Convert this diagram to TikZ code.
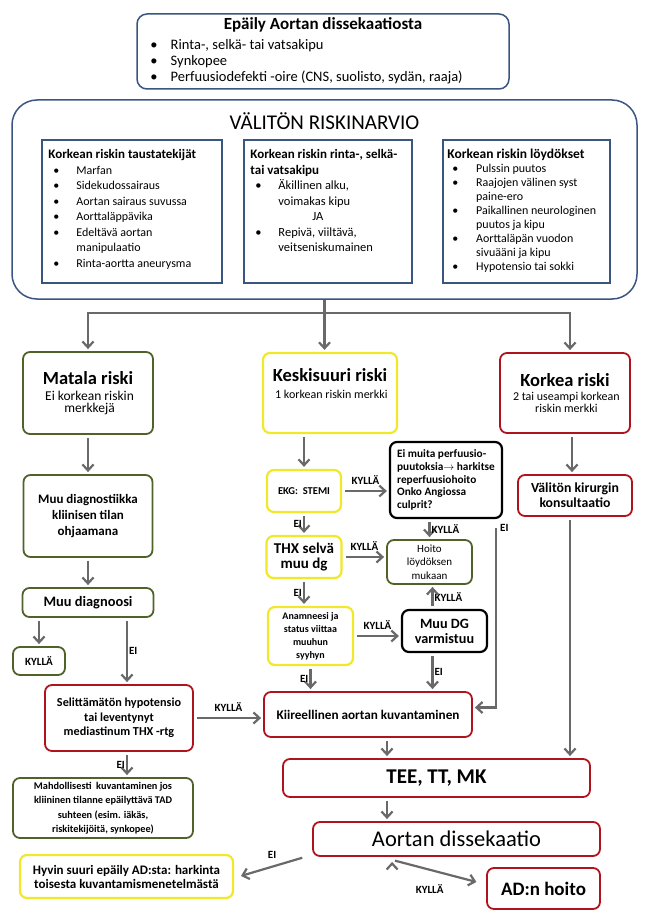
\documentclass[tikz,border=0pt]{standalone}
\usepackage{fontspec}
\setmainfont{Carlito}
\usetikzlibrary{positioning,arrows.meta}

\definecolor{sininen}{RGB}{56,86,128}
\definecolor{vihrea}{RGB}{79,98,40}
\definecolor{keltainen}{RGB}{240,232,40}
\definecolor{punainen}{RGB}{175,20,30}
\definecolor{harmaa}{RGB}{105,105,105}

\newcommand{\luet}[1][28pt]{\makebox[#1][l]{\hspace{5pt}\textbullet}}
\newcommand{\jatk}[1][28pt]{\hspace*{#1}}
\newcommand{\koko}[2]{\fontsize{#1}{#2}\selectfont}

\begin{document}
\begin{tikzpicture}[x=1pt,y=-1pt,on grid,
		>={Straight Barb[length=6pt,width=11pt]},
		laatikko/.style={draw,rounded corners=7pt,line width=1.8pt,align=center,inner sep=2pt,font=\bfseries},
		vihrea kehys/.style={laatikko,draw=vihrea},
		keltainen kehys/.style={laatikko,draw=keltainen,line width=2.2pt},
		punainen kehys/.style={laatikko,draw=punainen},
		musta kehys/.style={laatikko,draw=black,line width=2.2pt},
		sininen kehys/.style={draw=sininen,line width=1.5pt},
		lista/.style={align=left,anchor=north west,inner sep=0pt},
		nuoli/.style={->,draw=harmaa,line width=2.2pt,shorten >=2pt},
		nimio/.style={font=\bfseries\koko{11}{12},inner sep=1pt}]
		\useasboundingbox (0,0) rectangle (648,917);
		
		% epaily ja riskinarvio
		\node[sininen kehys,rounded corners=10pt,minimum width=372pt,minimum height=75pt]	(epaily)	at (323,51.5)	{};
		\node[font=\bfseries\koko{17}{19}]	(epailyotsikko)	at ([yshift=-12pt]epaily.north)	{Epäily Aortan dissekaatiosta};
		\node[lista,font=\koko{14.5}{16}]	(epailylista)	at ([xshift=9pt,yshift=-26pt]epaily.north west)
			{\luet[22pt] Rinta-, selkä- tai vatsakipu\\ \luet[22pt] Synkopee\\ \luet[22pt] Perfuusiodefekti -oire (CNS, suolisto, sydän, raaja)};
		
		\node[sininen kehys,rounded corners=25pt,minimum width=625pt,minimum height=199pt]	(riski)	at (324.5,199.5)	{};
		\node[font=\koko{21}{23}]	(riskiotsikko)	at ([yshift=-22pt]riski.north)	{VÄLITÖN RISKINARVIO};
		
		\node[sininen kehys,minimum width=180pt,minimum height=143pt]	(tausta)	at (132,211.5)	{};
		\node[sininen kehys,minimum width=168pt,minimum height=143pt]	(kipu)	[right=196pt of tausta]	{};
		\node[sininen kehys,minimum width=167pt,minimum height=143pt]	(loyd)	[right=198.5pt of kipu]	{};
		
		\node[lista,font=\koko{12}{15.5}]	(taustateksti)	at ([xshift=7pt,yshift=-10pt]tausta.north west)
			{\textbf{\koko{13}{15.5}Korkean riskin taustatekijät}\\ \luet Marfan\\ \luet Sidekudossairaus\\ \luet Aortan sairaus suvussa\\
			 \luet Aorttaläppävika\\ \luet Edeltävä aortan\\ \jatk manipulaatio\\ \luet Rinta-aortta aneurysma};
		\node[lista,font=\koko{12.5}{15.5}]	(kiputeksti)	at ([xshift=7pt,yshift=-10pt]kipu.north west)
			{\textbf{\koko{13}{15.5}Korkean riskin rinta-, selkä-}\\ \textbf{\koko{13}{15.5}tai vatsakipu}\\ \luet Äkillinen alku,\\ \jatk voimakas kipu\\
			 \hspace*{62pt}JA\\ \luet Repivä, viiltävä,\\ \jatk veitseniskumainen};
		\node[lista,font=\koko{12}{14}]	(loydteksti)	at ([xshift=5pt,yshift=-10pt]loyd.north west)
			{\textbf{\koko{13.5}{14}Korkean riskin löydökset}\\ \luet[26pt] Pulssin puutos\\ \luet[26pt] Raajojen välinen syst\\ \jatk[26pt] paine-ero\\
			 \luet[26pt] Paikallinen neurologinen\\ \jatk[26pt] puutos ja kipu\\ \luet[26pt] Aorttaläpän vuodon\\ \jatk[26pt] sivuääni ja kipu\\
			 \luet[26pt] Hypotensio tai sokki};
		
		% riskiluokat
		\node[vihrea kehys,minimum width=130pt,minimum height=82pt]	(matala)	at (88,393)
			{{\koko{18.5}{20}Matala riski}\\[4pt] \mdseries\koko{13.5}{15} Ei korkean riskin\\ \mdseries\koko{13.5}{15} merkkejä};
		\node[keltainen kehys,minimum width=134pt,minimum height=80pt]	(keski)	[right=242pt of matala]
			{{\koko{18.5}{20}Keskisuuri riski}\\[5pt] \mdseries\koko{12}{14} 1 korkean riskin merkki\\[6pt]};
		\node[punainen kehys,minimum width=130pt,minimum height=80pt]	(korkea)	[right=235pt of keski]
			{{\koko{18.5}{20}Korkea riski}\\[2pt] \mdseries\koko{12}{15} 2 tai useampi korkean\\ \mdseries\koko{12}{15} riskin merkki};
		
		% matala riski
		\node[vihrea kehys,minimum width=129pt,minimum height=82pt,font=\bfseries\koko{13}{16}]	(muudiag)	[below=123pt of matala]
			{Muu diagnostiikka\\ kliinisen tilan\\ ohjaamana};
		\node[vihrea kehys,minimum width=131pt,minimum height=29pt,font=\bfseries\koko{14.4}{15}]	(muudg0)	[below=86.5pt of muudiag]	{Muu diagnoosi};
		\node[vihrea kehys,minimum width=52pt,minimum height=28pt,font=\bfseries\koko{11}{12}]	(kylla0)	at (39,661)	{KYLLÄ};
		\node[punainen kehys,minimum width=148pt,minimum height=66pt,font=\bfseries\koko{12.2}{14.5}]	(selit)	at (119,718)
			{Selittämätön hypotensio\\ tai leventynyt\\ mediastinum THX -rtg};
		\node[vihrea kehys,minimum width=180pt,minimum height=60pt,font=\bfseries\koko{10.3}{14.5}]	(mahd)	at (103,808)
			{Mahdollisesti\ \ kuvantaminen jos\\ kliininen tilanne epäilyttävä TAD\\ suhteen (esim. iäkäs,\\ riskitekijöitä, synkopee)};
		\node[keltainen kehys,minimum width=213pt,minimum height=43pt,font=\bfseries\koko{13}{14}]	(hyvin)	at (126.5,876.5)
			{Hyvin suuri epäily AD:sta: harkinta\\ toisesta kuvantamismenetelmästä};
		
		% keskisuuri riski
		\node[keltainen kehys,minimum width=74pt,minimum height=42pt,font=\bfseries\koko{10.5}{12}]	(ekg)	at (304,491)	{EKG:\ \ STEMI};
		\node[keltainen kehys,minimum width=75pt,minimum height=42pt,font=\bfseries\koko{15}{15}]	(thx)	[below=66pt of ekg]	{THX selvä\\ muu dg};
		\node[keltainen kehys,minimum width=85pt,minimum height=58pt,font=\bfseries\koko{10}{13}]	(anamn)	at (310.5,636)
			{Anamneesi ja\\ status viittaa\\ muuhun\\ syyhyn};
		\node[musta kehys,minimum width=112pt,minimum height=76pt,align=left,font=\bfseries\koko{11.3}{12.8}]	(eimuita)	at (446,480)
			{Ei muita\ perfuusio-\\ puutoksia$\rightarrow$ harkitse\\ reperfuusiohoito\\ Onko Angiossa\\ culprit?};
		\node[vihrea kehys,minimum width=85pt,minimum height=44pt,font=\koko{11}{13.3}]	(hoito)	at (429.5,562)	{Hoito\\ löydöksen\\ mukaan};
		\node[musta kehys,minimum width=85pt,minimum height=42pt,font=\bfseries\koko{14.2}{15}]	(muudg)	at (444.5,631)	{Muu DG\\ varmistuu};
		\node[punainen kehys,minimum width=208pt,minimum height=45pt,font=\bfseries\koko{13.2}{14}]	(kiire)	at (368,714.5)	{Kiireellinen aortan kuvantaminen};
		
		% korkea riski ja loppu
		\node[punainen kehys,minimum width=114pt,minimum height=41pt,font=\bfseries\koko{13.8}{15}]	(kirurgi)	at (575,495.5)	{Välitön kirurgin\\ konsultaatio};
		\node[punainen kehys,minimum width=307pt,minimum height=38pt,font=\bfseries\koko{21}{22}]	(tee)	at (436.5,778)	{TEE, TT, MK};
		\node[punainen kehys,minimum width=287pt,minimum height=34pt,font=\koko{22.5}{23}]	(ad)	at (456.5,839)	{Aortan dissekaatio};
		\node[punainen kehys,minimum width=113pt,minimum height=41pt,font=\bfseries\koko{19}{20}]	(adhoito)	at (543.5,888.5)	{AD:n hoito};
		
		% nuolet
		\draw[harmaa,line width=2.2pt] (riski.south) -- ++(0,13) coordinate (haara);
		\draw[nuoli] (haara) -| (matala.north);
		\draw[nuoli] (haara) -| ([xshift=5pt]korkea.north);
		\draw[nuoli] (haara) -- (haara |- keski.north);
		
		\path[nuoli,shorten <=3pt]	(matala)	edge	(muudiag)
					(muudiag)	edge	(muudg0)
					(kylla0.north |- muudg0.south)	edge	(kylla0)
					([xshift=8pt]selit.north |- muudg0.south)	edge	node[right,nimio]	{EI}	([xshift=8pt]selit.north)
					(selit)	edge	node[above=4pt,nimio]	{KYLLÄ}	(selit -| kiire.west)
					([xshift=8pt]selit.south)	edge	node[left,nimio]	{EI}	([xshift=8pt]selit.south |- mahd.north)
					
					(keski.south -| ekg)	edge	(ekg)
					(ekg)	edge	node[above=4pt,nimio]	{KYLLÄ}	(ekg -| eimuita.west)
							edge	node[left,nimio]	{EI}	(thx)
					(hoito.north |- eimuita.south)	edge	node[right,nimio]	{KYLLÄ}	(hoito)
					(thx)	edge	node[above=4pt,nimio]	{KYLLÄ}	(thx -| hoito.west)
							edge	node[left,nimio]	{EI}	(thx |- anamn.north)
					(anamn)	edge	node[above=4pt,nimio]	{KYLLÄ}	(anamn -| muudg.west)
							edge	node[left,nimio]	{EI}	(anamn |- kiire.north)
					([xshift=-12pt]muudg.north)	edge	node[right,nimio]	{KYLLÄ}	([xshift=-12pt]muudg.north |- hoito.south)
					([xshift=-12pt]muudg.south)	edge	node[right,nimio]	{EI}	([xshift=-12pt]muudg.south |- kiire.north)
					
					([xshift=-3pt]kirurgi.north |- korkea.south)	edge	([xshift=-3pt]kirurgi.north)
					([xshift=-5pt]kirurgi.south)	edge	([xshift=-5pt]kirurgi.south |- tee.north)
					([xshift=19pt]kiire.south)	edge	([xshift=19pt]kiire.south |- tee.north)
					([xshift=19pt]kiire.south |- tee.south)	edge	([xshift=19pt]kiire.south |- ad.north)
					([xshift=-7pt]ad.south west)	edge	node[above=6pt,nimio]	{EI}	([xshift=5pt]hyvin.east)
					([xshift=80pt,yshift=-3pt]ad.south west)	edge[shorten >=10pt]	node[below=13pt,pos=0.4,nimio]	{KYLLÄ}	([yshift=4pt]adhoito.west);
		
		\draw[nuoli] ([xshift=-7pt,yshift=-9pt]eimuita.south east) node[anchor=west,xshift=2pt,nimio] {EI} |- ([yshift=7pt]kiire.east);
	\end{tikzpicture}
\end{document}
